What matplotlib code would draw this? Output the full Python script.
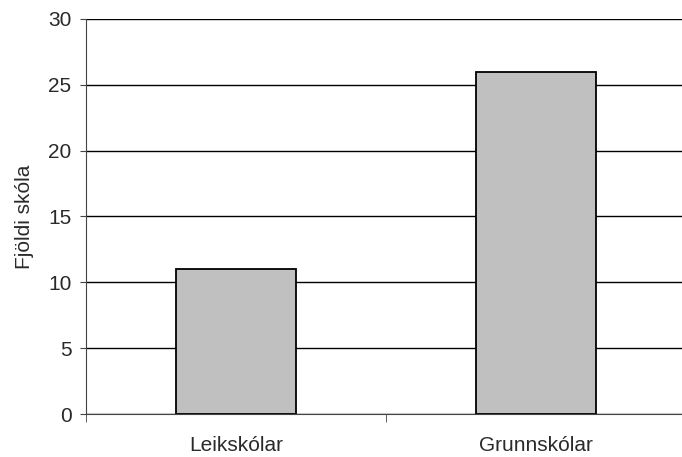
import numpy as np
import matplotlib.pyplot as plt

categories = ["Leikskólar", "Grunnskólar"]
values = [11, 26]

plt.rcParams['font.family'] = ['Liberation Sans', 'DejaVu Sans']

fig = plt.figure(figsize=(6.82, 4.57), dpi=100)
ax = fig.add_axes([86 / 682, 43 / 457, 596 / 682, 395 / 457])

x = np.arange(len(categories))
ax.bar(x, values, width=0.4, color='#c0c0c0', edgecolor='black', linewidth=1.3, zorder=3)

ax.set_ylim(0, 30)
ax.set_xlim(-0.5, 1.5 - 4 / 300)
ax.set_yticks(np.arange(0, 31, 5))
ax.yaxis.grid(True, color='black', linewidth=1, zorder=0)

ax.set_xticks(x)
ax.set_xticklabels(categories)
ax.set_xticks([-0.5, 0.5], minor=True)
ax.tick_params(axis='x', which='major', length=0, pad=16, labelsize=15, labelcolor='#2a2a2a')
ax.tick_params(axis='x', which='minor', length=6, direction='out', color='#444444')
ax.tick_params(axis='y', length=4.5, direction='out', color='#444444', labelsize=15, labelcolor='#2a2a2a', pad=6)

for side in ['top', 'right']:
    ax.spines[side].set_visible(False)
ax.spines['left'].set_color('#444444')
ax.spines['bottom'].set_color('#444444')

ax.set_ylabel("Fjöldi skóla", fontsize=15, color='#2a2a2a', labelpad=10)

plt.savefig("out.png", dpi=100)
